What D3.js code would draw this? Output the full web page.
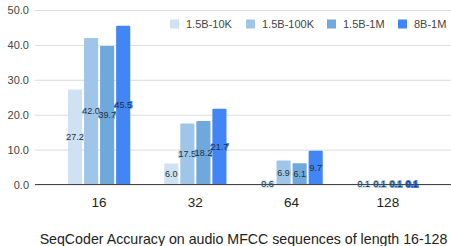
<!DOCTYPE html>
<html>
<head>
<meta charset="utf-8">
<script src="https://cdn.jsdelivr.net/npm/d3@7"></script>
<style>
  body { margin: 0; background: #fff; }
  svg { display: block; font-family: "Liberation Sans", Arial, sans-serif; }
</style>
</head>
<body>
<div id="chart"></div>
<script>
const categories = ['16', '32', '64', '128'];
const seriesNames = ['1.5B-10K', '1.5B-100K', '1.5B-1M', '8B-1M'];
const seriesColors = ['#cfe2f3', '#9fc5e8', '#6fa8dc', '#4285f4'];
const values10K = [27.2, 6.0, 0.6, 0.1];
const values100K = [42.0, 17.5, 6.9, 0.1];
const values1M = [39.7, 18.2, 6.1, 0.1];
const values8B = [45.5, 21.7, 9.7, 0.1];
const yTicks = [0, 10, 20, 30, 40, 50];
const title = 'SeqCoder Accuracy on audio MFCC sequences of length 16-128';

const allValues = [values10K, values100K, values1M, values8B];

const width = 451, height = 246;
const plotLeft = 35, plotRight = 451;

const svg = d3.select('#chart').append('svg')
  .attr('width', width)
  .attr('height', height);

const x0 = d3.scaleBand()
  .domain(categories)
  .range([51, 436]);

const x1 = d3.scaleBand()
  .domain(seriesNames)
  .range([17, x0.bandwidth() - 17])
  .paddingInner(0.12);

const y = d3.scaleLinear()
  .domain([0, 50])
  .range([184.5, 10]);

// gridlines + y labels
const yAxis = svg.append('g')
  .attr('transform', `translate(${plotLeft},0)`)
  .call(d3.axisLeft(y).tickValues(yTicks).tickFormat(d3.format('.1f'))
    .tickSize(-(plotRight - plotLeft)).tickPadding(6));
yAxis.select('.domain').remove();
yAxis.selectAll('.tick line').style('stroke', '#dcdcdc').style('stroke-width', 1);
yAxis.selectAll('text')
  .style('font-size', '11px')
  .style('fill', '#444')
  .style('font-family', '"Liberation Sans", Arial, sans-serif');

// bars
const groups = svg.selectAll('.grp')
  .data(categories)
  .enter().append('g')
  .attr('class', 'grp')
  .attr('transform', d => `translate(${x0(d)},0)`);

const rows = (d, i) => seriesNames.map((s, j) => ({ series: s, value: allValues[j][i], color: seriesColors[j] }));

groups.selectAll('rect')
  .data(rows)
  .enter().append('rect')
  .attr('x', d => x1(d.series))
  .attr('y', d => y(d.value))
  .attr('width', x1.bandwidth())
  .attr('height', d => y(0) - y(d.value))
  .attr('rx', 1)
  .attr('fill', d => d.color);

// baseline
svg.append('line')
  .attr('x1', plotLeft).attr('x2', plotRight)
  .attr('y1', y(0)).attr('y2', y(0))
  .attr('stroke', '#444').attr('stroke-width', 1);

// value labels
groups.selectAll('.val')
  .data(rows)
  .enter().append('text')
  .attr('class', 'val')
  .attr('x', d => x1(d.series) + x1.bandwidth() / 2)
  .attr('y', d => (y(d.value) + y(0)) / 2)
  .attr('dy', '0.35em')
  .attr('text-anchor', 'middle')
  .style('font-size', '9px')
  .style('fill', '#263238')
  .style('stroke', d => d.color)
  .style('stroke-width', 2)
  .style('paint-order', 'stroke')
  .text(d => d.value.toFixed(1));

// category labels
svg.append('g')
  .attr('transform', `translate(0,${y(0)})`)
  .call(d3.axisBottom(x0).tickSize(0).tickPadding(13))
  .call(g => g.select('.domain').remove())
  .selectAll('text')
  .style('font-size', '13.5px')
  .style('fill', '#222')
  .style('font-family', '"Liberation Sans", Arial, sans-serif');

// legend
const legendX = [170, 246, 327, 398];
const legend = svg.selectAll('.leg')
  .data(seriesNames)
  .enter().append('g')
  .attr('class', 'leg')
  .attr('transform', (d, i) => `translate(${legendX[i]},19.5)`);
legend.append('rect')
  .attr('width', 9).attr('height', 9)
  .attr('fill', (d, i) => seriesColors[i]);
legend.append('text')
  .attr('x', 16).attr('y', 4.5).attr('dy', '0.35em')
  .style('font-size', '11px')
  .style('fill', '#444')
  .text(d => d);

// title
svg.append('text')
  .attr('x', 243.5).attr('y', 243.5)
  .attr('text-anchor', 'middle')
  .style('font-size', '14.2px')
  .style('fill', '#222')
  .text(title);
</script>
</body>
</html>
